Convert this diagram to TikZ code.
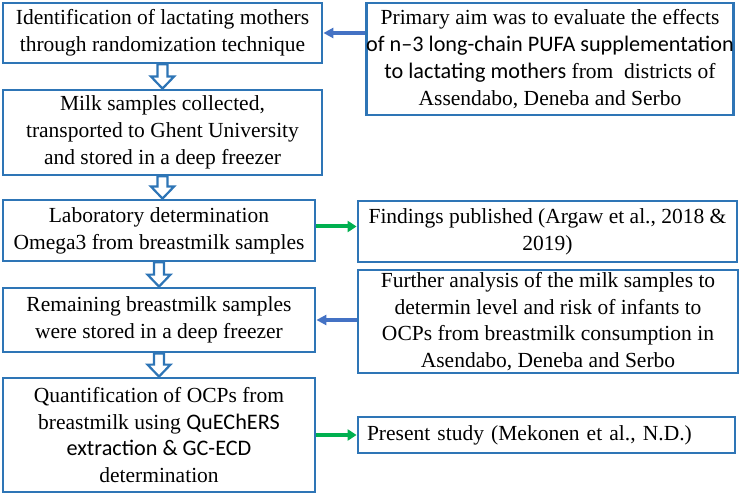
\documentclass[tikz,border=0pt]{standalone}
\usepackage{fontspec}
\setmainfont{Liberation Serif}
\setsansfont{Carlito}
\usetikzlibrary{arrows.meta,calc}
\definecolor{boxblue}{RGB}{46,117,182}
\definecolor{arrblue}{RGB}{68,114,196}
\definecolor{arrgreen}{RGB}{0,176,80}
\newcommand\sansbit[1]{{\sffamily\fontsize{22.2}{26.8}\selectfont #1}}
\newcommand\hollowdown[2]{%
  \draw[hollowarrow] let \p1=(#1.south), \p2=(#2.north) in
    (\x1-5pt,\y1) -- (\x1+5pt,\y1) -- (\x1+5pt,\y2+12pt) -- (\x1+11.5pt,\y2+12pt)
    -- (\x1,\y2) -- (\x1-11.5pt,\y2+12pt) -- (\x1-5pt,\y2+12pt) -- cycle;}
\begin{document}
\begin{tikzpicture}[x=1pt,y=-1pt,
  box/.style={draw=boxblue,line width=2.8pt,inner sep=0pt,align=center,fill=white,
    font=\fontsize{21.5}{26.8}\selectfont},
  hollowarrow/.style={draw=boxblue,line width=2.2pt,fill=white,line join=miter},
  bluearr/.style={draw=arrblue,line width=3.6pt,-{Triangle[length=10pt,width=10pt]}},
  greenarr/.style={draw=arrgreen,line width=4pt,-{Triangle[length=9pt,width=11pt]}}]
\useasboundingbox (0,0) rectangle (749,494);

\node[box,minimum width=319pt,minimum height=60pt] (L1) at (162.5,33)
  {Identification of lactating mothers\\through randomization technique};
\node[box,minimum width=319pt,minimum height=85pt] (L2) at (162.5,132.5)
  {Milk samples collected,\\transported to Ghent University\\and stored in a deep freezer};
\node[box,minimum width=312pt,minimum height=61pt] (L3) at (159,230.5)
  {Laboratory determination\\Omega3 from breastmilk samples};
\node[box,minimum width=312pt,minimum height=64pt] (L4) at (159,320)
  {Remaining breastmilk samples\\were stored in a deep freezer};
\node[box,minimum width=312pt,minimum height=114pt] (L5) at (159,435)
  {Quantification of OCPs from\\breastmilk using \sansbit{QuEChERS}\\\sansbit{extraction \& GC-ECD}\\determination};

\node[box,minimum width=366pt,minimum height=112pt] (R1) at (550,59)
  {Primary aim was to evaluate the effects\\\sansbit{of n–3 long-chain PUFA supplementation}\\\sansbit{to lactating mothers} from~ districts of\\Assendabo, Deneba and Serbo};
\node[box,minimum width=379pt,minimum height=61pt] (R2) at (547.5,231.5)
  {Findings published (Argaw et al., 2018 \&\\2019)};
\node[box,minimum width=380pt,minimum height=103pt] (R3) at (548,321.5)
  {Further analysis of the milk samples to\\determin level and risk of infants to\\OCPs from breastmilk consumption in\\Asendabo, Deneba and Serbo};
\node[box,minimum height=36pt,text width=359pt,inner xsep=9pt,align=left] (R4) at (546.5,435)
  {Present study (Mekonen et al., N.D.)};

\hollowdown{L1}{L2}
\hollowdown{L2}{L3}
\hollowdown{L3}{L4}
\hollowdown{L4}{L5}

\draw[bluearr] (R1.west |- L1.east) -- (L1.east);
\draw[bluearr] (R3.west |- L4.east) -- (L4.east);
\coordinate (g1) at ([yshift=4pt]L3.east);
\draw[greenarr] (g1) -- (R2.west |- g1);
\draw[greenarr] (L5.east) -- (R4.west |- L5.east);
\end{tikzpicture}
\end{document}
